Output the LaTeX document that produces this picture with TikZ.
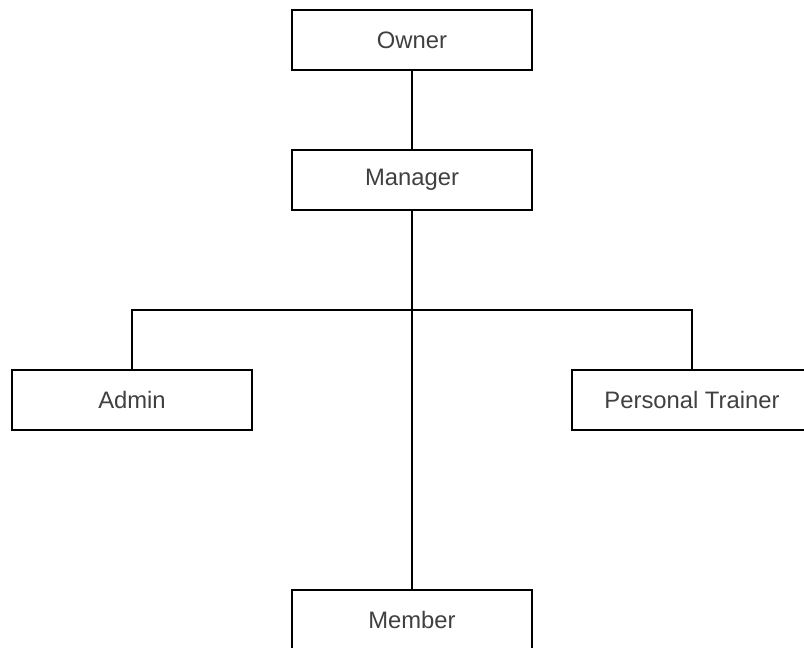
\documentclass[tikz,border=0pt]{standalone}
\usepackage{fontspec}
\setmainfont{Liberation Sans}
\begin{document}
\begin{tikzpicture}[x=1pt,y=-1pt,
  role/.style={draw=black,line width=1.6pt,fill=white,minimum width=240pt,minimum height=60pt,
    inner sep=0pt,text=black!75,font=\fontsize{23.8}{27}\selectfont},
  link/.style={draw=black,line width=1.6pt}]
  \useasboundingbox (0,0) rectangle (804,648);
  \clip (0,0) rectangle (804,648);
  \node[role] (owner) at (412,40) {Owner};
  \node[role] (manager) at (412,180) {Manager};
  \node[role] (admin) at (132,400) {Admin};
  \node[role] (trainer) at (692,400) {Personal Trainer};
  \node[role] (member) at (412,620) {Member};
  \coordinate (split) at (412,310);
  \draw[link] (owner.south) -- (manager.north);
  \draw[link] (manager.south) -- (member.north);
  \draw[link] (split) -| (admin.north);
  \draw[link] (split) -| (trainer.north);
\end{tikzpicture}
\end{document}
